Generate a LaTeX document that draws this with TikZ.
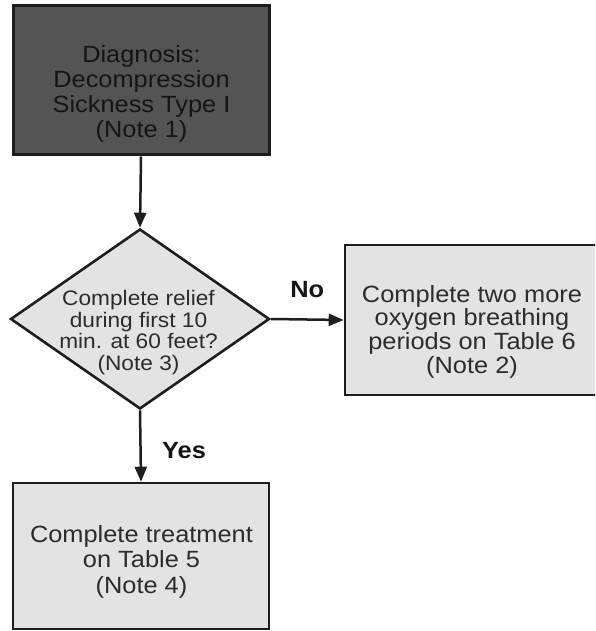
\documentclass[tikz,border=0pt]{standalone}
\usepackage{fontspec}
\setmainfont{Liberation Sans}[FakeStretch=1.08]
\usetikzlibrary{shapes.geometric,arrows.meta}
\definecolor{darkfill}{HTML}{545454}
\definecolor{lightfill}{HTML}{E3E3E3}
\definecolor{edgecol}{HTML}{1E1E1E}
\definecolor{txtgray}{HTML}{2C2C2C}
\definecolor{txtdark}{HTML}{151515}
\tikzset{
  boxshape/.style={rectangle, draw=edgecol, line width=2.6pt, fill=lightfill, inner sep=0pt},
  darkbox/.style={boxshape, fill=darkfill, line width=3pt},
  decshape/.style={diamond, draw=edgecol, line width=2.6pt, fill=lightfill, inner sep=0pt},
  bigtxt/.style={align=center, inner sep=0pt, anchor=north, text=txtgray, font=\fontsize{23.5}{24.8}\selectfont},
  midtxt/.style={align=center, inner sep=0pt, anchor=north, text=txtgray, font=\fontsize{21}{21.7}\selectfont},
  lbl/.style={inner sep=0pt, anchor=base, text=txtdark, font=\fontsize{23.5}{24}\selectfont\bfseries},
  arr/.style={draw=edgecol, line width=2.5pt, -{Triangle[length=15pt,width=12pt]}}
}
\begin{document}
\begin{tikzpicture}[x=1pt,y=-1pt]
\path[use as bounding box] (0,0) rectangle (595,631);
\clip (0,0) rectangle (595,631);
\fill[white] (0,0) rectangle (595,631);
% shapes
\node[darkbox, minimum width=256pt, minimum height=149pt] (diag) at (141,80.5) {};
\node[decshape, minimum width=259pt, minimum height=180pt] (relief) at (140,319) {};
\node[boxshape, minimum width=255pt, minimum height=150pt] (more) at (472.5,320) {};
\node[boxshape, minimum width=256pt, minimum height=146pt] (treat) at (141,556) {};
% texts
\node[bigtxt, text=txtdark, font=\fontsize{23.5}{25}\selectfont] (diagtxt) at (141.5,45) {Diagnosis:\\Decompression\\Sickness Type I\\(Note 1)};
\node[midtxt] (relieftxt) at (138.5,290) {Complete relief\\during first 10\\min. at 60 feet?\\(Note 3)};
\node[bigtxt, font=\fontsize{23.5}{23.7}\selectfont] (moretxt) at (472,285) {Complete two more\\oxygen breathing\\periods on Table 6\\(Note 2)};
\node[bigtxt, font=\fontsize{23.5}{25.5}\selectfont] (treattxt) at (141.5,525) {Complete treatment\\on Table 5\\(Note 4)};
% connectors
\draw[arr] (diag.south) -- (relief.north);
\draw[arr] (relief.east) -- node[lbl, yshift=22pt] (nolbl) {No} (more.west);
\draw[arr] (relief.south) -- node[lbl, xshift=43.5pt, yshift=-12pt] (yeslbl) {Yes} (treat.north);
\end{tikzpicture}
\end{document}
